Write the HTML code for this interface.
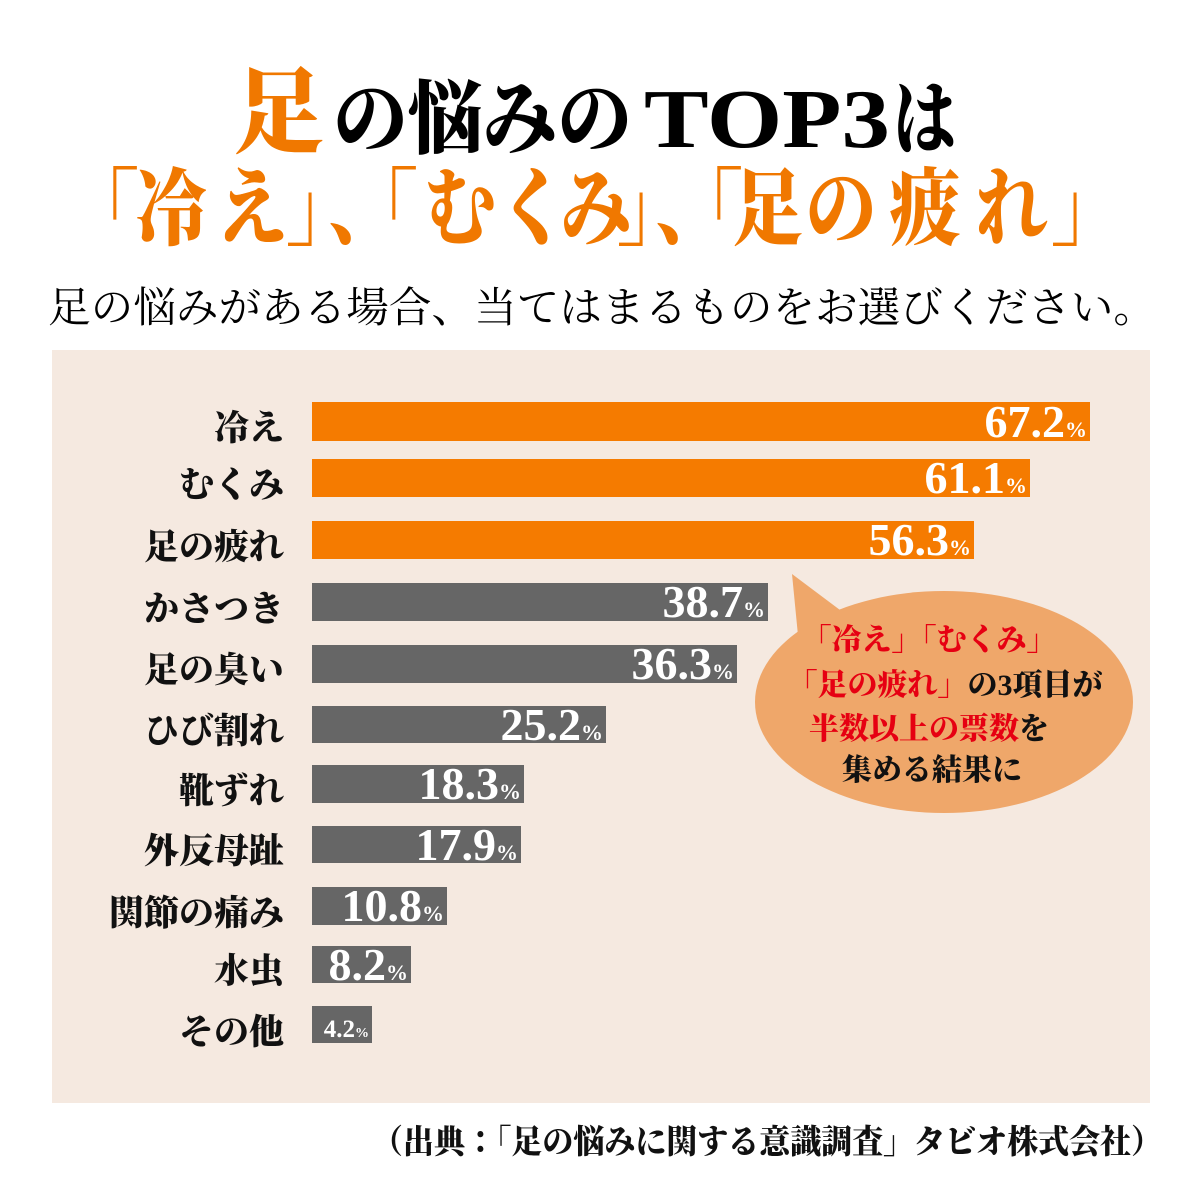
<!DOCTYPE html>
<html lang="ja">
<head>
<meta charset="utf-8">
<style>
html,body{margin:0;padding:0;background:#fff;}
svg{display:block;}
.s{font-family:"Liberation Serif","Noto Serif CJK SC",serif;}
.b{font-weight:900;}
</style>
</head>
<body>
<svg width="1200" height="1200" viewBox="0 0 1200 1200" xmlns="http://www.w3.org/2000/svg" class="s">
  <rect x="0" y="0" width="1200" height="1200" fill="#ffffff"/>

  <!-- Title line 1 -->
  <text class="b" x="233" y="145" font-size="94" fill="#F07800" textLength="92" lengthAdjust="spacingAndGlyphs">足</text>
  <text class="b" x="333" y="147" font-size="80" fill="#000" textLength="299" lengthAdjust="spacingAndGlyphs">の悩みの</text>
  <text class="b" x="644" y="147" font-size="84" fill="#000" textLength="246" lengthAdjust="spacingAndGlyphs" font-family="Liberation Serif, serif">TOP3</text>
  <text class="b" x="893" y="147" font-size="80" fill="#000" textLength="63" lengthAdjust="spacingAndGlyphs">は</text>

  <!-- Title line 2 -->
  <g class="b" font-size="84" fill="#F07800" text-anchor="middle">
    <text transform="translate(103,238) scale(0.85,1)">「</text>
    <text transform="translate(171,238) scale(0.85,1)">冷</text>
    <text transform="translate(252,238) scale(0.85,1)">え</text>
    <text transform="translate(322,238) scale(0.85,1)">」</text>
    <text transform="translate(364,238) scale(0.85,1)">、</text>
    <text transform="translate(382,238) scale(0.85,1)">「</text>
    <text transform="translate(460,238) scale(0.85,1)">む</text>
    <text transform="translate(533,238) scale(0.85,1)">く</text>
    <text transform="translate(596,238) scale(0.85,1)">み</text>
    <text transform="translate(653,238) scale(0.85,1)">」</text>
    <text transform="translate(691,238) scale(0.85,1)">、</text>
    <text transform="translate(707,238) scale(0.85,1)">「</text>
    <text transform="translate(768,238) scale(0.85,1)">足</text>
    <text transform="translate(841,238) scale(0.85,1)">の</text>
    <text transform="translate(925,238) scale(0.85,1)">疲</text>
    <text transform="translate(1012,238) scale(0.85,1)">れ</text>
    <text transform="translate(1087,238) scale(0.85,1)">」</text>
  </g>

  <!-- Subtitle -->
  <text x="48" y="322" font-size="42" fill="#000" font-weight="400" textLength="1108" lengthAdjust="spacingAndGlyphs">足の悩みがある場合、当てはまるものをお選びください。</text>

  <!-- Panel -->
  <rect x="52" y="350" width="1098" height="753" fill="#F5E9E0"/>

  <!-- Bars -->
  <g>
    <rect x="312" y="402" width="778" height="39" fill="#F57B00"/>
    <rect x="312" y="459" width="718" height="38" fill="#F57B00"/>
    <rect x="312" y="521" width="662" height="38" fill="#F57B00"/>
    <rect x="312" y="583" width="456" height="38" fill="#666666"/>
    <rect x="312" y="645" width="425" height="38" fill="#666666"/>
    <rect x="312" y="706" width="294" height="37" fill="#666666"/>
    <rect x="312" y="765" width="212" height="38" fill="#666666"/>
    <rect x="312" y="826" width="209" height="37" fill="#666666"/>
    <rect x="312" y="887" width="135" height="38" fill="#666666"/>
    <rect x="312" y="946" width="99" height="37" fill="#666666"/>
    <rect x="312" y="1006" width="60" height="37" fill="#666666"/>
  </g>

  <!-- Category labels -->
  <g class="b" font-size="35" fill="#111" text-anchor="end">
    <text x="284" y="440">冷え</text>
    <text x="284" y="497">むくみ</text>
    <text x="284" y="559">足の疲れ</text>
    <text x="284" y="621">かさつき</text>
    <text x="284" y="682">足の臭い</text>
    <text x="284" y="743">ひび割れ</text>
    <text x="284" y="803">靴ずれ</text>
    <text x="284" y="863">外反母趾</text>
    <text x="284" y="925">関節の痛み</text>
    <text x="284" y="983">水虫</text>
    <text x="284" y="1044">その他</text>
  </g>

  <!-- Value labels -->
  <g font-family="Liberation Serif, serif" font-weight="700" fill="#ffffff" text-anchor="end">
    <text x="1087" y="437"><tspan font-size="46">67.2</tspan><tspan font-size="22">%</tspan></text>
    <text x="1027" y="493"><tspan font-size="46">61.1</tspan><tspan font-size="22">%</tspan></text>
    <text x="971" y="555"><tspan font-size="46">56.3</tspan><tspan font-size="22">%</tspan></text>
    <text x="765" y="617"><tspan font-size="46">38.7</tspan><tspan font-size="22">%</tspan></text>
    <text x="734" y="679"><tspan font-size="46">36.3</tspan><tspan font-size="22">%</tspan></text>
    <text x="603" y="740"><tspan font-size="46">25.2</tspan><tspan font-size="22">%</tspan></text>
    <text x="521" y="799"><tspan font-size="46">18.3</tspan><tspan font-size="22">%</tspan></text>
    <text x="518" y="860"><tspan font-size="46">17.9</tspan><tspan font-size="22">%</tspan></text>
    <text x="444" y="921"><tspan font-size="46">10.8</tspan><tspan font-size="22">%</tspan></text>
    <text x="408" y="980"><tspan font-size="46">8.2</tspan><tspan font-size="22">%</tspan></text>
    <text x="369" y="1037"><tspan font-size="25">4.2</tspan><tspan font-size="14">%</tspan></text>
  </g>

  <!-- Speech bubble -->
  <g fill="#EFA76A">
    <ellipse cx="944" cy="702" rx="189" ry="111"/>
    <polygon points="792,574 848,616 800,656"/>
  </g>
  <g class="b" font-size="30" text-anchor="middle">
    <text x="929" y="650" fill="#E60012">「冷え」「むくみ」</text>
    <text x="945" y="695"><tspan fill="#E60012">「足の疲れ」</tspan><tspan fill="#111">の3項目が</tspan></text>
    <text x="929" y="739"><tspan fill="#E60012">半数以上の票数</tspan><tspan fill="#111">を</tspan></text>
    <text x="932" y="780" fill="#111">集める結果に</text>
  </g>

  <!-- Footnote -->
  <text class="b" x="372" y="1153" font-size="33" fill="#111" textLength="790" lengthAdjust="spacingAndGlyphs">（出典：「足の悩みに関する意識調査」タビオ株式会社）</text>
</svg>
</body>
</html>
